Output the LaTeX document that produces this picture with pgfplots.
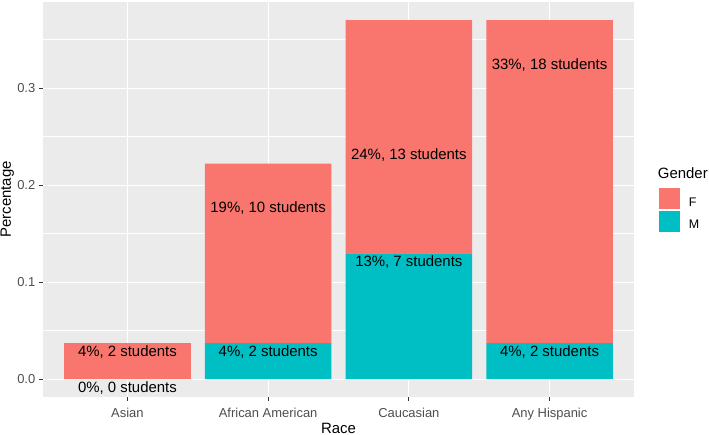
\documentclass[border=0pt]{standalone}
\usepackage{fontspec}
\setmainfont{Liberation Sans}
\usepackage{pgfplots}
\pgfplotsset{compat=1.18}
\definecolor{colF}{HTML}{F8766D}
\definecolor{colM}{HTML}{00BFC4}
\definecolor{panel}{HTML}{EBEBEB}
\definecolor{ticktxt}{HTML}{4D4D4D}
\definecolor{tickln}{HTML}{333333}
\tikzset{barlab/.style={anchor=base, yshift=-13.5bp, font=\fontsize{15}{18}\selectfont}}

\begin{document}
\begin{tikzpicture}
\useasboundingbox (0bp,0bp) rectangle (709bp,435bp);
\begin{axis}[
  at={(43bp,38bp)}, anchor=south west,
  width=591bp, height=395bp, scale only axis,
  ybar stacked, bar width=0.9,
  clip=false,
  xmin=0.4, xmax=4.6, ymin=-0.0185, ymax=0.3889,
  xtick={1,2,3,4},
  xticklabels={Asian,African American,Caucasian,Any Hispanic},
  ytick={0,0.1,0.2,0.3},
  minor ytick={0.05,0.15,0.25,0.35},
  yticklabel style={/pgf/number format/fixed,
    /pgf/number format/fixed zerofill,
    /pgf/number format/precision=1},
  /pgf/number format/assume math mode=true,
  grid=both,
  major grid style={white, line width=1.1bp},
  minor grid style={white, line width=0.55bp},
  axis line style={draw=none},
  axis background/.style={fill=panel},
  tick align=outside, tick pos=left,
  major tick length=4bp, minor tick length=0pt,
  tick style={tickln, line width=0.9bp},
  tick label style={font=\fontsize{13}{15}\selectfont, text=ticktxt},
  xticklabel style={anchor=base, inner sep=0pt, yshift=-16.5bp},
  yticklabel style={anchor=east, inner sep=0pt, xshift=-3.5bp},
  xlabel={Race}, ylabel={Percentage},
  label style={font=\fontsize{15}{18}\selectfont},
  xlabel style={at={(axis description cs:0.5,-0.0919)}, anchor=base, inner sep=0pt},
  ylabel style={at={(axis description cs:-0.0545,0.5)}, anchor=base, inner sep=0pt},
  reverse legend,
  legend cell align=left,
  legend style={at={(axis description cs:1.0411,0.5306)}, anchor=north west,
    draw=none, fill=none, inner sep=0pt, outer sep=0pt,
    row sep=0pt, column sep=8bp,
    nodes={inner sep=0pt, font=\fontsize{12.5}{14}\selectfont}},
  legend image code/.code={%
    \draw[#1, draw=white, line width=0.6bp] (0bp,-7bp) rectangle (22bp,15bp);},
]
\addplot[fill=colM, draw=none] coordinates {(1,0) (2,0.0370) (3,0.1296) (4,0.0370)};
\addlegendentry{M}
\addplot[fill=colF, draw=none] coordinates {(1,0.0370) (2,0.1852) (3,0.2407) (4,0.3333)};
\addlegendentry{F}

\coordinate (aF) at (axis cs:1,0.0370);
\coordinate (aM) at (axis cs:1,0);
\coordinate (bF) at (axis cs:2,0.1852);
\coordinate (bM) at (axis cs:2,0.0370);
\coordinate (cF) at (axis cs:3,0.2407);
\coordinate (cM) at (axis cs:3,0.1296);
\coordinate (dF) at (axis cs:4,0.3333);
\coordinate (dM) at (axis cs:4,0.0370);
\end{axis}
\node[barlab] at (aF) {4\%, 2 students};
\node[barlab] at (aM) {0\%, 0 students};
\node[barlab] at (bF) {19\%, 10 students};
\node[barlab] at (bM) {4\%, 2 students};
\node[barlab] at (cF) {24\%, 13 students};
\node[barlab] at (cM) {13\%, 7 students};
\node[barlab] at (dF) {33\%, 18 students};
\node[barlab] at (dM) {4\%, 2 students};
\node[anchor=base west, inner sep=0pt, font=\fontsize{15}{18}\selectfont] at (657.7bp,256.7bp) {Gender};
\end{tikzpicture}
\end{document}
